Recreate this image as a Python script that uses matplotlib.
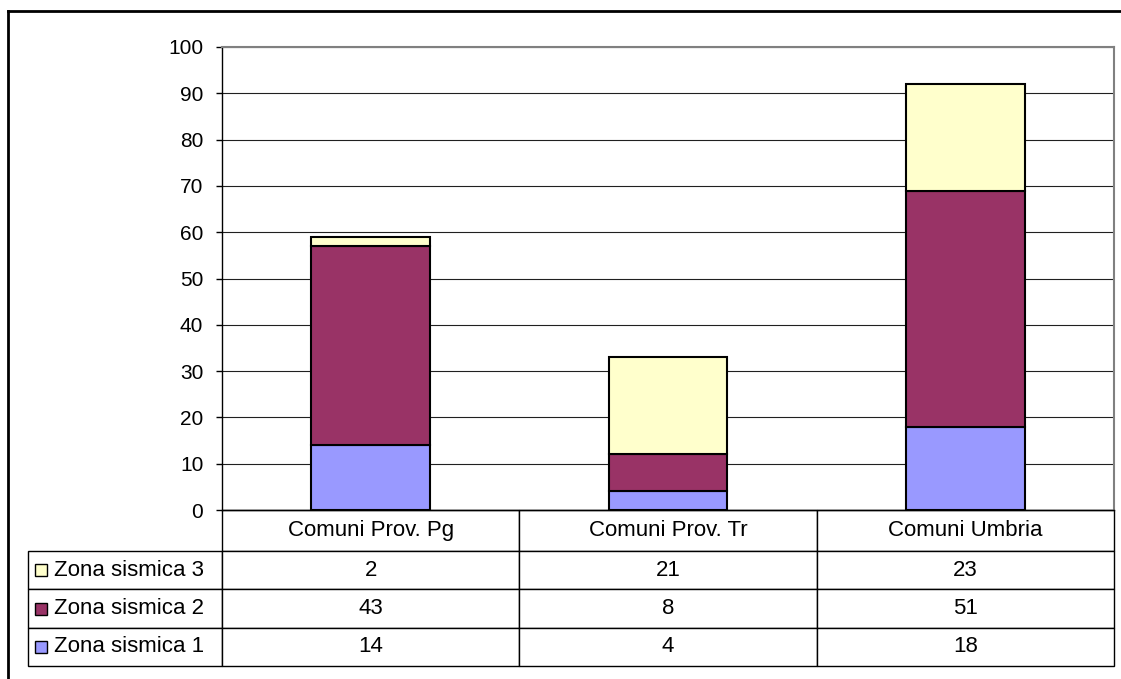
import matplotlib.pyplot as plt
from matplotlib.patches import Rectangle
from matplotlib.lines import Line2D
from matplotlib.table import Table

plt.rcParams['font.family'] = ['Liberation Sans', 'DejaVu Sans']

categorie = ["Comuni Prov. Pg", "Comuni Prov. Tr", "Comuni Umbria"]
serie = ["Zona sismica 1", "Zona sismica 2", "Zona sismica 3"]
zona1 = [14, 4, 18]
zona2 = [43, 8, 51]
zona3 = [2, 21, 23]
colori = ["#9999FF", "#993366", "#FFFFCC"]

W, H = 1121, 679
fig = plt.figure(figsize=(W / 100, H / 100), dpi=100)

# area del grafico in pixel
x0, x1 = 222, 1114
y_top, y_bot = 47, 510
aw, ah = x1 - x0, y_bot - y_top
ax = fig.add_axes([x0 / W, 1 - y_bot / H, aw / W, ah / H])

# cornice esterna (tagliata a destra e in basso)
fig.add_artist(Line2D([8 / W, 8 / W], [0, 1 - 11 / H], color="black", lw=2))
fig.add_artist(Line2D([8 / W, 1], [1 - 11 / H, 1 - 11 / H], color="black", lw=2))

xs = range(len(categorie))
valori = [zona1, zona2, zona3]
base = [0] * len(categorie)
for vals, col in zip(valori, colori):
    ax.bar(xs, vals, 0.4, bottom=base, color=col, edgecolor="black", lw=1.5, zorder=3)
    base = [b + v for b, v in zip(base, vals)]

ax.set_xlim(-0.5, 2.5)
ax.set_ylim(0, 100)
ax.set_yticks(range(0, 101, 10))
ax.set_xticks([])
ax.yaxis.grid(True, color="#202020", lw=0.8, zorder=0)
ax.tick_params(axis="y", labelsize=15, length=4.5, width=1, color="black", pad=9)
for s in ["top", "right"]:
    ax.spines[s].set_color("#808080")
    ax.spines[s].set_linewidth(1.5)
ax.spines["left"].set_linewidth(1)
ax.spines["bottom"].set_linewidth(1)

# tabella dati (unità = assi)
tab_left = 28
tab_bottom = 666
head_h = 41
row_h = (tab_bottom - y_bot - head_h) / 3
tab_h = (tab_bottom - y_bot) / ah
tab = Table(ax, bbox=[0, -tab_h, 1, tab_h])
for j, c in enumerate(categorie):
    tab.add_cell(0, j, width=1 / 3, height=head_h / ah, text=c, loc="center")
righe = list(zip(serie, valori, colori))[::-1]
for i, (nome, vals, col) in enumerate(righe, start=1):
    cell = tab.add_cell(i, -1, width=(x0 - tab_left) / aw, height=row_h / ah, text=nome, loc="left")
    cell.PAD = 26 / (x0 - tab_left)
    for j, v in enumerate(vals):
        tab.add_cell(i, j, width=1 / 3, height=row_h / ah, text=str(v), loc="center")
tab.auto_set_font_size(False)
tab.set_fontsize(16)
for (r, c), cell in tab.get_celld().items():
    cell.set_linewidth(1)
    cell.set_edgecolor("black")
ax.add_table(tab)

# quadratini della legenda nella tabella
for i, (nome, vals, col) in enumerate(righe):
    yc = y_bot + head_h + row_h * (i + 0.5)
    ax.add_patch(Rectangle(((35 - x0) / aw, -(yc + 6 - y_bot) / ah),
                           12 / aw, 12 / ah,
                           transform=ax.transAxes, facecolor=col, edgecolor="black",
                           lw=1, clip_on=False, zorder=5))

fig.savefig("out.png", dpi=100)
